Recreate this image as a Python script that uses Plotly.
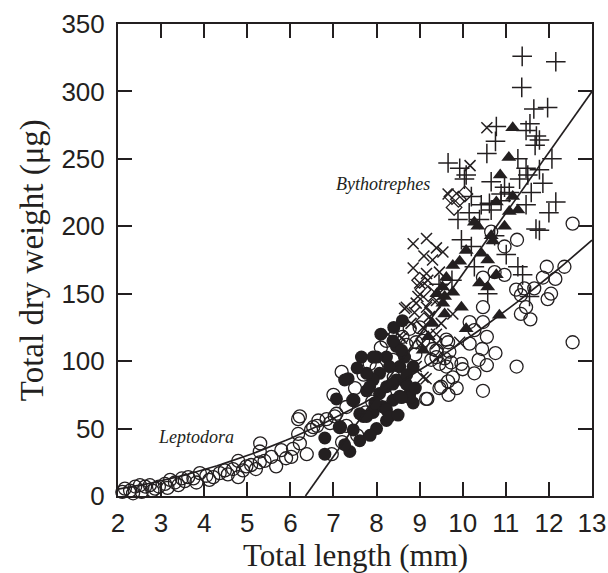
import plotly.graph_objects as go

# ---------------- data ----------------
# Leptodora (open circles)
lep_x = [2.10, 2.16, 2.28, 2.35, 2.40, 2.51, 2.55, 2.63, 2.74, 2.80, 2.86, 2.95, 3.09, 3.15, 3.21,
         3.32, 3.40, 3.48, 3.55, 3.63, 3.75, 3.82, 3.90, 4.05, 4.12, 4.21, 4.36, 4.48, 4.55, 4.67,
         4.79, 4.79, 4.90, 4.98, 5.09, 5.20, 5.29, 5.29, 5.30, 5.40, 5.56, 5.67, 5.79, 5.90, 6.02,
         6.06, 6.18, 6.18, 6.22, 6.38, 6.48, 6.62, 6.22, 6.53, 6.65, 6.84, 7.03, 7.15, 6.92, 7.07,
         6.96, 7.19, 7.00, 7.30, 7.46, 7.84, 8.38, 8.77, 8.23, 9.08, 9.39, 9.15, 9.50, 8.92, 9.27,
         9.39, 9.58, 9.66, 9.62, 9.73, 9.77, 9.66, 9.46, 9.86, 9.67, 10.47, 9.18, 9.97, 10.00, 10.27,
         10.56, 11.25, 10.37, 10.76, 10.45, 10.16, 10.27, 10.56, 10.16, 10.47, 10.47, 11.47, 11.35, 11.57, 11.97,
         12.05, 11.43, 11.24, 11.35, 11.66, 12.15, 11.86, 11.95, 12.36, 10.74, 10.97, 10.47, 11.26, 10.97, 10.66,
         12.55, 12.55, 9.62, 9.69, 9.31, 9.46, 7.50, 7.70, 8.00, 8.10, 8.60, 8.90, 8.40, 7.90, 8.20,
         8.70, 9.00, 7.55, 7.30, 7.75, 7.20]
lep_y = [3, 5.5, 4, 2, 7, 8, 3, 7, 8, 4, 5.5, 7, 9, 6, 12,
         10, 8, 13, 11, 14, 13, 10, 17, 15, 12, 14, 17, 19, 16, 20,
         14, 26, 19, 22, 23, 20, 25, 33, 39, 26, 29, 22, 34, 28, 29,
         35, 57, 46, 39, 31, 49, 52, 59, 51, 56, 57, 59, 51, 54, 61,
         31, 92, 75, 66, 71, 98, 101, 124, 115, 115, 108, 72, 81, 114, 101,
         103, 102, 114, 96, 99, 88, 85, 80, 80, 75, 78, 72, 98, 94, 91,
         97, 96, 101, 106, 109, 113, 123, 118, 129, 129, 140, 140, 135, 131, 146,
         150, 154, 153, 149, 154, 161, 162, 170, 170, 166, 164, 162, 190, 185, 196,
         202, 114, 116, 107, 109, 98, 80, 90, 95, 110, 118, 105, 88, 70, 75,
         112, 125, 45, 52, 62, 40]

# filled circles
fc_x = [7.65, 7.34, 7.26, 7.07, 6.80, 6.80, 7.38, 7.26, 7.61, 7.69, 7.92, 8.23, 8.07, 8.23, 8.46,
        8.38, 8.54, 8.77, 8.69, 7.92, 8.07, 7.77, 8.15, 8.38, 7.77, 8.00, 8.23, 8.46, 8.85, 7.46,
        7.15, 7.61, 7.84, 8.30, 8.65, 8.85, 8.38, 8.54, 8.23, 8.30, 7.96, 7.77, 7.46, 8.77, 7.92,
        8.58, 8.58, 8.70, 8.10, 8.40, 8.60, 7.55, 8.00, 7.85, 8.50, 8.90]
fc_y = [103, 87, 86, 72, 43, 31, 33, 38, 41, 59, 62, 56, 91, 103, 111,
        115, 96, 76, 83, 86, 76, 78, 66, 71, 91, 103, 81, 86, 69, 49,
        51, 61, 81, 96, 103, 96, 83, 74, 64, 59, 69, 59, 71, 73, 103,
        73, 108, 90, 120, 125, 130, 95, 50, 45, 60, 80]

# filled triangles
tri_x = [11.16, 11.07, 10.87, 11.16, 10.78, 11.08, 11.28, 10.97, 10.27, 10.35, 10.66, 10.70, 10.08, 10.43,
         10.58, 9.77, 9.93, 10.78, 10.39, 10.58, 9.62, 9.77, 9.97, 9.58, 9.58, 10.85, 10.08, 9.53,
         9.54, 9.08, 9.30, 9.20, 9.40]
tri_y = [273, 251, 238, 222, 218, 211, 212, 200, 203, 200, 193, 189, 182, 180,
         175, 171, 174, 164, 158, 155, 162, 151, 140, 148, 135, 134, 124, 155,
         143, 108, 128, 118, 150]

# plus markers
plus_x = [11.38, 12.16, 11.37, 11.65, 11.97, 10.78, 10.76, 11.56, 11.47, 11.71, 11.78, 11.68, 10.56, 11.28,
          12.07, 9.66, 9.93, 10.08, 11.47, 11.78, 10.04, 10.66, 10.97, 10.89, 11.08, 11.32, 11.51, 11.59,
          11.86, 12.16, 10.43, 10.66, 10.89, 11.47, 11.70, 11.78, 9.89, 10.39, 9.97, 10.20, 11.01, 10.27,
          11.28, 11.39, 10.58, 11.55, 10.74, 10.62, 10.20, 9.45, 9.75, 10.15, 12.00]
plus_y = [326, 322, 303, 287, 288, 274, 263, 276, 271, 267, 264, 260, 254, 250,
          250, 247, 243, 238, 243, 242, 235, 233, 229, 224, 225, 235, 238, 225,
          232, 218, 216, 212, 219, 216, 198, 197, 205, 205, 190, 185, 179, 170,
          170, 164, 150, 148, 193, 217, 222, 157, 160, 210, 210]

# x markers
cross_x = [10.56, 10.17, 9.66, 8.85, 9.16, 9.39, 9.54, 8.85, 9.16, 9.46, 9.00, 9.19, 8.69, 8.88,
           9.16, 8.96, 9.39, 8.27, 8.54, 9.23, 8.65, 8.92, 8.58, 9.04, 9.39, 9.15, 9.23, 9.08,
           9.77, 9.93, 8.92, 9.39, 9.08, 9.60, 9.30, 9.10, 8.80, 9.50]
cross_y = [273, 245, 224, 187, 191, 184, 181, 169, 165, 166, 158, 160, 140, 136,
           140, 148, 145, 120, 119, 120, 139, 143, 117, 113, 120, 87, 133, 125,
           135, 114, 96, 113, 88, 155, 175, 178, 128, 128]

# open diamonds
dia_x = [9.75, 9.90, 10.05, 9.80, 9.08, 9.20, 9.00, 9.30, 9.10]
dia_y = [222, 220, 224, 214, 153, 150, 160, 140, 130]

# fitted curves (parameters)
lep_a, lep_b = 1.343, 1.93          # Leptodora: W = a * L^b
byt_slope, byt_x0 = 45.1, 6.35      # Bythotrephes: W = slope * (L - x0)
fit_lep_x = [2 + 0.1 * i for i in range(111)]
fit_lep_y = [lep_a * v ** lep_b for v in fit_lep_x]
fit_byt_x = [byt_x0, 13.0]
fit_byt_y = [byt_slope * (v - byt_x0) for v in fit_byt_x]

xticks = list(range(2, 14))
yticks = list(range(0, 351, 50))

INK = "#231f20"

fig = go.Figure()

def add(xs, ys, symbol, size, lw=1.2):
    fig.add_trace(go.Scatter(
        x=xs, y=ys, mode="markers", showlegend=False, hoverinfo="skip", cliponaxis=False,
        marker=dict(symbol=symbol, size=size, color=INK,
                    line=dict(color=INK, width=lw))))

add(lep_x, lep_y, "circle-open", 13, lw=1.3)
add(dia_x, dia_y, "diamond-open", 12, lw=1.3)
add(cross_x, cross_y, "x-thin-open", 11, lw=1.5)
add(plus_x, plus_y, "cross-thin-open", 14, lw=1.5)
add(fc_x, fc_y, "circle", 13, lw=0)
add(tri_x, tri_y, "triangle-up", 13, lw=0)

fig.add_trace(go.Scatter(x=fit_lep_x, y=fit_lep_y, mode="lines", showlegend=False,
                         line=dict(color=INK, width=1.7), hoverinfo="skip"))
fig.add_trace(go.Scatter(x=fit_byt_x, y=fit_byt_y, mode="lines", showlegend=False,
                         line=dict(color=INK, width=1.7), hoverinfo="skip"))

axis_common = dict(showline=True, linecolor=INK, linewidth=2, mirror="ticks",
                   ticks="inside", ticklen=14, tickwidth=1.6, tickcolor=INK,
                   showgrid=False, zeroline=False, automargin=False,
                   tickfont=dict(family="Liberation Sans, Arial", size=26, color=INK))

fig.update_xaxes(range=[2, 13], tickvals=xticks, ticktext=[str(v) for v in xticks],
                 ticklabelstandoff=3, **axis_common)
fig.update_yaxes(range=[0, 350], tickvals=yticks, ticktext=[str(v) for v in yticks],
                 ticklabelstandoff=6, **axis_common)

serif = "Liberation Serif, Times New Roman, serif"
fig.add_annotation(x=0.5, y=-0.126, xref="paper", yref="paper", text="Total length (mm)",
                   showarrow=False, xanchor="center", yanchor="middle",
                   font=dict(family=serif, size=31, color=INK))
fig.add_annotation(x=-0.181, y=0.5, xref="paper", yref="paper", text="Total dry weight (μg)",
                   showarrow=False, xanchor="center", yanchor="middle", textangle=-90,
                   font=dict(family=serif, size=33, color=INK))
fig.add_annotation(x=8.14, y=231, text="<i>Bythotrephes</i>", showarrow=False,
                   xanchor="center", yanchor="middle",
                   font=dict(family=serif, size=18, color=INK))
fig.add_annotation(x=3.80, y=43.8, text="<i>Leptodora</i>", showarrow=False,
                   xanchor="center", yanchor="middle",
                   font=dict(family=serif, size=18, color=INK))

fig.update_layout(width=608, height=573, margin=dict(l=118, r=16, t=24, b=77),
                  paper_bgcolor="white", plot_bgcolor="white")

fig.write_html("out.html", config={"displayModeBar": False},
               post_script="document.body.style.margin='0';document.body.style.overflow='hidden';")
